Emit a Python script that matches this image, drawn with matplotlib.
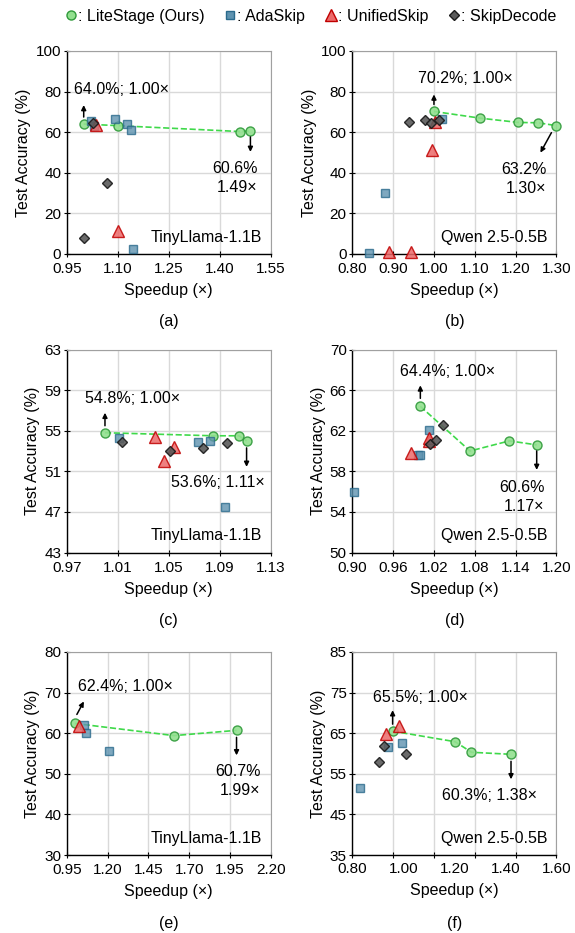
import numpy as np
import matplotlib
matplotlib.use("Agg")
import matplotlib.pyplot as plt
from matplotlib.lines import Line2D

plt.rcParams['font.family'] = ['Liberation Sans', 'DejaVu Sans']

# ---- data (speedup x, accuracy y) ----
# (a) TinyLlama-1.1B
lite_a_x = [1.00, 1.10, 1.46, 1.49]
lite_a_y = [64.0, 63.2, 60.3, 60.6]
ada_a_x = [1.02, 1.03, 1.092, 1.126, 1.138, 1.144]
ada_a_y = [65.6, 63.1, 66.5, 63.8, 61.0, 2.6]
uni_a_x = [1.036, 1.10]
uni_a_y = [63.4, 11.5]
skip_a_x = [1.027, 1.067, 1.00]
skip_a_y = [64.6, 35.1, 7.7]

# (b) Qwen 2.5-0.5B
lite_b_x = [1.00, 1.113, 1.206, 1.256, 1.30]
lite_b_y = [70.2, 66.9, 64.8, 64.6, 63.2]
ada_b_x = [0.84, 0.88, 1.02]
ada_b_y = [0.3, 30.2, 66.7]
uni_b_x = [0.889, 0.945, 0.995, 1.002]
uni_b_y = [1.0, 1.0, 51.1, 65.0]
skip_b_x = [0.939, 0.977, 0.992, 1.013]
skip_b_y = [64.8, 66.2, 64.6, 65.9]

# (c) TinyLlama-1.1B
lite_c_x = [1.00, 1.085, 1.105, 1.111]
lite_c_y = [54.8, 54.5, 54.5, 54.0]
ada_c_x = [1.011, 1.073, 1.082, 1.094]
ada_c_y = [54.3, 53.9, 54.0, 47.5]
uni_c_x = [1.039, 1.046, 1.054]
uni_c_y = [54.4, 52.0, 53.4]
skip_c_x = [1.013, 1.051, 1.077, 1.096]
skip_c_y = [53.9, 53.0, 53.3, 53.8]

# (d) Qwen 2.5-0.5B
lite_d_x = [1.00, 1.073, 1.131, 1.171]
lite_d_y = [64.4, 60.0, 61.0, 60.6]
ada_d_x = [0.903, 0.996, 0.999, 1.012]
ada_d_y = [56.0, 59.6, 59.6, 62.1]
uni_d_x = [0.987, 1.012, 1.013]
uni_d_y = [59.8, 61.0, 61.3]
skip_d_x = [1.0145, 1.023, 1.033]
skip_d_y = [60.7, 61.1, 62.6]

# (e) TinyLlama-1.1B
lite_e_x = [1.00, 1.607, 1.99]
lite_e_y = [62.4, 59.4, 60.7]
ada_e_x = [1.054, 1.068, 1.211]
ada_e_y = [62.1, 60.0, 55.6]
uni_e_x = [1.025]
uni_e_y = [61.8]
skip_e_x = []
skip_e_y = []

# (f) Qwen 2.5-0.5B
lite_f_x = [0.958, 1.203, 1.267, 1.422]
lite_f_y = [65.5, 62.9, 60.3, 59.8]
ada_f_x = [0.830, 0.941, 0.994]
ada_f_y = [51.6, 61.6, 62.5]
uni_f_x = [0.934, 0.984]
uni_f_y = [64.8, 66.8]
skip_f_x = [0.906, 0.924, 1.010]
skip_f_y = [58.0, 61.9, 59.8]

models = ['TinyLlama-1.1B', 'Qwen 2.5-0.5B']
panel_names = ['(a)', '(b)', '(c)', '(d)', '(e)', '(f)']

# axis ranges: (xmin, xmax, n x intervals), (ymin, ymax, y step)
xlims = [(0.95, 1.55, 4), (0.80, 1.30, 5), (0.97, 1.13, 4),
         (0.90, 1.20, 5), (0.95, 2.20, 5), (0.80, 1.60, 5)]
ylims = [(0, 100, 20), (0, 100, 20), (43, 63, 4),
         (50, 70, 4), (30, 80, 10), (35, 85, 10)]

# annotation text for first / last LiteStage point
left_notes = ['64.0%; 1.00×', '70.2%; 1.00×', '54.8%; 1.00×',
              '64.4%; 1.00×', '62.4%; 1.00×', '65.5%; 1.00×']
right_notes = ['60.6%\n1.49×', '63.2%\n1.30×', '53.6%; 1.11×',
               '60.6%\n1.17×', '60.7%\n1.99×', '60.3%; 1.38×']

# style
c_lite, e_lite = '#92e08f', '#2f9a3a'
c_ada, e_ada = '#5f93b0', '#2a6a8c'
c_uni, e_uni = '#ec6a6a', '#c00000'
c_skip, e_skip = '#5a5a5a', '#1a1a1a'
c_line = '#3fd94a'

data = [
    (lite_a_x, lite_a_y, ada_a_x, ada_a_y, uni_a_x, uni_a_y, skip_a_x, skip_a_y),
    (lite_b_x, lite_b_y, ada_b_x, ada_b_y, uni_b_x, uni_b_y, skip_b_x, skip_b_y),
    (lite_c_x, lite_c_y, ada_c_x, ada_c_y, uni_c_x, uni_c_y, skip_c_x, skip_c_y),
    (lite_d_x, lite_d_y, ada_d_x, ada_d_y, uni_d_x, uni_d_y, skip_d_x, skip_d_y),
    (lite_e_x, lite_e_y, ada_e_x, ada_e_y, uni_e_x, uni_e_y, skip_e_x, skip_e_y),
    (lite_f_x, lite_f_y, ada_f_x, ada_f_y, uni_f_x, uni_f_y, skip_f_x, skip_f_y),
]

# label offsets in pixels from the point: (text dx, dy, ha, arrow tail dx, dy, head dx, dy)
left_off = [(38, 35, 'center', 0, 7, 0, 19),
            (31, 33, 'center', 0, 7, 0, 17),
            (28, 34, 'center', 0, 7, 0, 20),
            (27, 35, 'center', 0, 8, 0, 21),
            (51, 37, 'center', 2, 9, 9, 22),
            (28, 34, 'center', 0, 7, 0, 21)]
right_off = [(7, -47, 'right', 0, -6, 0, -21),
             (-10, -53, 'right', -5, -7, -16, -27),
             (-29, -42, 'center', 0, -7, 0, -26),
             (8, -52, 'right', 0, -6, 0, -25),
             (24, -51, 'right', 0, -7, 0, -25),
             (-22, -41, 'center', 0, -7, 0, -25)]

fig = plt.figure(figsize=(5.75, 9.33), dpi=100)

lefts = [0.116, 0.6127]
bottoms = [0.7278, 0.4078, 0.0836]
w, h = 0.355, 0.2176

def note(ax, x, y, txt, off):
    dx, dy, ha, tx, ty, hx, hy = off
    ax.annotate(txt, xy=(x, y), xytext=(dx, dy), textcoords='offset pixels',
                ha=ha, va='center', fontsize=11.5, linespacing=1.35,
                multialignment='right' if ha == 'right' else 'center', zorder=10)
    # small arrow pointing from the point towards the label
    p = ax.transData.transform((x, y))
    inv = ax.transData.inverted()
    tail = inv.transform((p[0] + tx, p[1] + ty))
    head = inv.transform((p[0] + hx, p[1] + hy))
    ax.annotate('', xy=head, xytext=tail,
                arrowprops=dict(arrowstyle='-|>', color='black', lw=1.1,
                                mutation_scale=7, shrinkA=0, shrinkB=0), zorder=10)

for i in range(6):
    ax = fig.add_axes([lefts[i % 2], bottoms[i // 2], w, h])
    lx, ly, ax_, ay, ux, uy, sx, sy = data[i]
    x0, x1, nx = xlims[i]
    y0, y1, ys = ylims[i]

    ax.plot(lx, ly, '--', color=c_line, lw=1.2, zorder=3)
    ax.plot(lx, ly, 'o', ms=6.5, mfc=c_lite, mec=e_lite, mew=1.0, alpha=0.9, zorder=4, clip_on=False)
    ax.plot(ax_, ay, 's', ms=6, mfc=c_ada, mec=e_ada, mew=1.0, alpha=0.8, zorder=5, clip_on=False)
    ax.plot(ux, uy, '^', ms=8, mfc=c_uni, mec=e_uni, mew=1.0, alpha=0.85, zorder=6, clip_on=False)
    ax.plot(sx, sy, 'D', ms=5, mfc=c_skip, mec=e_skip, mew=1.0, alpha=0.9, zorder=7, clip_on=False)

    ax.set_xlim(x0, x1)
    ax.set_ylim(y0, y1)
    grid_x = np.linspace(x0, x1, nx + 1)
    ax.set_xticks(grid_x)
    if i == 5:
        # labels in this panel sit at 0.2 steps, not on the gridlines
        ax.xaxis.remove_overlapping_locs = False
        ax.set_xticklabels([])
        ax.set_xticks(np.arange(0.8, 1.61, 0.2), minor=True)
        ax.set_xticklabels(['%.2f' % v for v in np.arange(0.8, 1.61, 0.2)], minor=True)
        ax.tick_params(axis='x', which='minor', length=0, labelsize=11, pad=5)
    else:
        ax.set_xticklabels(['%.2f' % v for v in grid_x])
    ax.set_yticks(np.arange(y0, y1 + 0.1, ys))
    ax.tick_params(axis='both', which='major', direction='inout', length=4, width=0.8,
                   labelsize=11, pad=2)
    ax.tick_params(axis='x', which='major', pad=4)

    ax.grid(True, color='#d9d9d9', lw=1.0, zorder=0)
    ax.set_axisbelow(True)
    for s in ['top', 'right']:
        ax.spines[s].set_color('#a0a0a0')
    for s in ['left', 'bottom']:
        ax.spines[s].set_color('black')
        ax.spines[s].set_linewidth(1.0)

    ax.set_xlabel('Speedup (×)', fontsize=11.5, labelpad=5)
    ax.set_ylabel('Test Accuracy (%)', fontsize=11.5, labelpad=3)

    ax.text(0.956, 0.082, models[i % 2], transform=ax.transAxes, ha='right',
            va='center', fontsize=11.5)

    note(ax, lx[0], ly[0], left_notes[i], left_off[i])
    note(ax, lx[-1], ly[-1], right_notes[i], right_off[i])

    fig.text(lefts[i % 2] + w / 2, bottoms[i // 2] - 68 / 933, panel_names[i],
             ha='center', va='center', fontsize=11.5)

# shared legend on top
handles = [
    Line2D([], [], ls='', marker='o', ms=6.5, mfc=c_lite, mec=e_lite),
    Line2D([], [], ls='', marker='s', ms=6, mfc=c_ada, mec=e_ada),
    Line2D([], [], ls='', marker='^', ms=8, mfc=c_uni, mec=e_uni),
    Line2D([], [], ls='', marker='D', ms=5, mfc=c_skip, mec=e_skip),
]
labels = [': LiteStage (Ours)', ': AdaSkip', ': UnifiedSkip', ': SkipDecode']
fig.legend(handles, labels, loc='center', bbox_to_anchor=(311 / 575, 1 - 16 / 933),
           ncol=4, frameon=False, fontsize=11.5, handlelength=0.6, handletextpad=0.15,
           columnspacing=1.3, borderaxespad=0)

fig.savefig('out.png', dpi=100)
